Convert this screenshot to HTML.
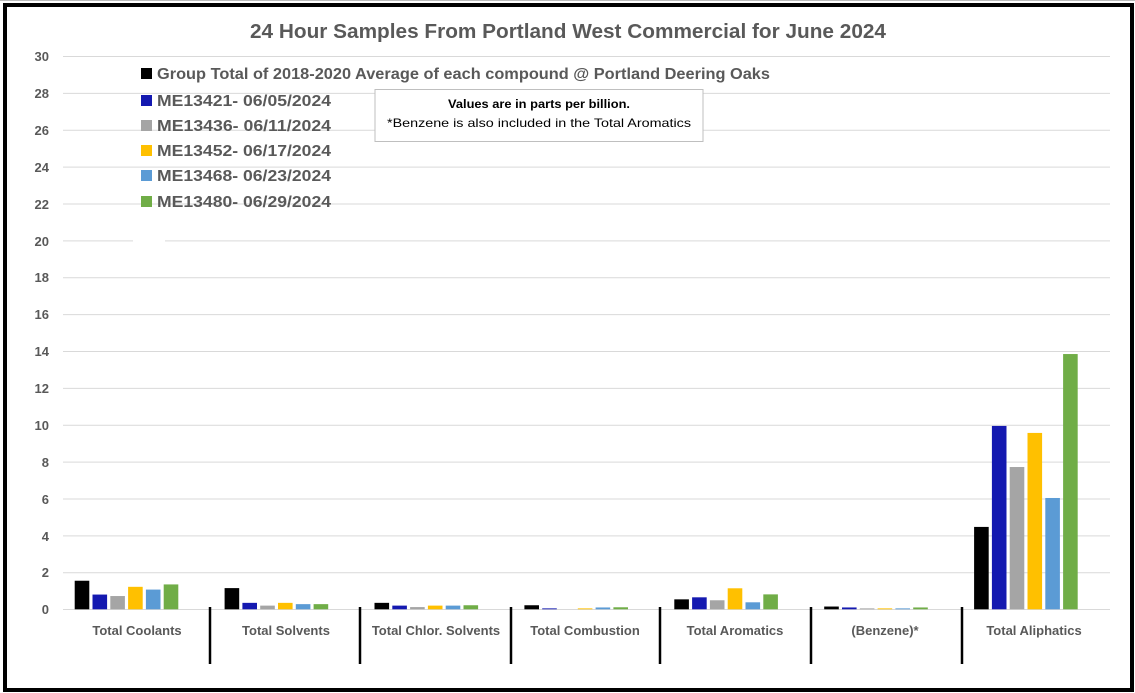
<!DOCTYPE html>
<html><head><meta charset="utf-8"><style>
html,body{margin:0;padding:0;background:#fff;}
svg{display:block;font-family:"Liberation Sans",sans-serif;}
</style></head><body>
<svg width="1135" height="693" viewBox="0 0 1135 693" xmlns="http://www.w3.org/2000/svg">
<rect x="0" y="0" width="1135" height="693" fill="#fff"/>
<line x1="0" y1="0.5" x2="1135" y2="0.5" stroke="#bbb"/>
<rect x="5" y="5" width="1127" height="685" fill="none" stroke="#000" stroke-width="4"/>
<text x="568" y="38" text-anchor="middle" font-size="20" font-weight="bold" fill="#595959" textLength="636" lengthAdjust="spacingAndGlyphs">24 Hour Samples From Portland West Commercial for June 2024</text>
<g stroke="#d9d9d9" stroke-width="1">
<line x1="63" y1="56.5" x2="1110" y2="56.5"/>
<line x1="63" y1="93.4" x2="1110" y2="93.4"/>
<line x1="63" y1="130.2" x2="1110" y2="130.2"/>
<line x1="63" y1="167.1" x2="1110" y2="167.1"/>
<line x1="63" y1="204" x2="1110" y2="204"/>
<line x1="63" y1="240.9" x2="133" y2="240.9"/>
<line x1="165" y1="240.9" x2="1110" y2="240.9"/>
<line x1="63" y1="277.7" x2="1110" y2="277.7"/>
<line x1="63" y1="314.6" x2="1110" y2="314.6"/>
<line x1="63" y1="351.5" x2="1110" y2="351.5"/>
<line x1="63" y1="388.4" x2="1110" y2="388.4"/>
<line x1="63" y1="425.2" x2="1110" y2="425.2"/>
<line x1="63" y1="462.1" x2="1110" y2="462.1"/>
<line x1="63" y1="499" x2="1110" y2="499"/>
<line x1="63" y1="535.9" x2="1110" y2="535.9"/>
<line x1="63" y1="572.7" x2="1110" y2="572.7"/>
<line x1="63" y1="609.5" x2="1110" y2="609.5"/>
</g>
<g font-size="13" font-weight="bold" fill="#595959" text-anchor="end">
<text x="49" y="61">30</text><text x="49" y="98">28</text><text x="49" y="135">26</text>
<text x="49" y="172">24</text><text x="49" y="209">22</text><text x="49" y="246">20</text>
<text x="49" y="282">18</text><text x="49" y="319">16</text><text x="49" y="356">14</text>
<text x="49" y="393">12</text><text x="49" y="430">10</text><text x="49" y="467">8</text>
<text x="49" y="504">6</text><text x="49" y="541">4</text><text x="49" y="577">2</text>
<text x="49" y="614">0</text>
</g>
<g id="bars"></g>
<g stroke="#000" stroke-width="2.5">
<line x1="210" y1="607" x2="210" y2="664"/>
<line x1="360" y1="607" x2="360" y2="664"/>
<line x1="511" y1="607" x2="511" y2="664"/>
<line x1="660" y1="607" x2="660" y2="664"/>
<line x1="811" y1="607" x2="811" y2="664"/>
<line x1="962" y1="607" x2="962" y2="664"/>
</g>
<g font-size="13" font-weight="bold" fill="#595959" text-anchor="middle">
<text x="137" y="635">Total Coolants</text>
<text x="286" y="635">Total Solvents</text>
<text x="436" y="635">Total Chlor. Solvents</text>
<text x="585" y="635">Total Combustion</text>
<text x="735" y="635">Total Aromatics</text>
<text x="885" y="635">(Benzene)*</text>
<text x="1034" y="635">Total Aliphatics</text>
</g>
<g font-size="16" font-weight="bold" fill="#595959">
<rect x="141" y="68" width="11" height="11" fill="#000"/>
<text x="157" y="79" textLength="613" lengthAdjust="spacingAndGlyphs">Group Total of 2018-2020 Average of each compound @ Portland Deering Oaks</text>
<rect x="141" y="95" width="11" height="11" fill="#1419B0"/>
<text x="157" y="106" textLength="174" lengthAdjust="spacingAndGlyphs">ME13421- 06/05/2024</text>
<rect x="141" y="120" width="11" height="11" fill="#A5A5A5"/>
<text x="157" y="131" textLength="174" lengthAdjust="spacingAndGlyphs">ME13436- 06/11/2024</text>
<rect x="141" y="145" width="11" height="11" fill="#FFC000"/>
<text x="157" y="156" textLength="174" lengthAdjust="spacingAndGlyphs">ME13452- 06/17/2024</text>
<rect x="141" y="170" width="11" height="11" fill="#5B9BD5"/>
<text x="157" y="181" textLength="174" lengthAdjust="spacingAndGlyphs">ME13468- 06/23/2024</text>
<rect x="141" y="196" width="11" height="11" fill="#70AD47"/>
<text x="157" y="207" textLength="174" lengthAdjust="spacingAndGlyphs">ME13480- 06/29/2024</text>
</g>
<rect x="375" y="89.5" width="328" height="52" fill="#fff" stroke="#bfbfbf"/>
<text x="539" y="108" text-anchor="middle" font-size="12" font-weight="bold" fill="#000" textLength="182" lengthAdjust="spacingAndGlyphs">Values are in parts per billion.</text>
<text x="539" y="127" text-anchor="middle" font-size="12" fill="#000" textLength="304" lengthAdjust="spacingAndGlyphs">*Benzene is also included in the Total Aromatics</text>
<script>
var data=[[1.55,0.8,0.72,1.22,1.07,1.35],[1.15,0.35,0.2,0.35,0.28,0.28],[0.35,0.2,0.12,0.2,0.2,0.22],[0.22,0.05,0,0.05,0.1,0.11],[0.54,0.65,0.49,1.14,0.38,0.81],[0.15,0.1,0.05,0.05,0.05,0.1],[4.47,9.95,7.72,9.57,6.04,13.85]];
var cols=["#000","#1419B0","#A5A5A5","#FFC000","#5B9BD5","#70AD47"];
var g=document.getElementById("bars"),ns="http://www.w3.org/2000/svg";
for(var c=0;c<7;c++)for(var s=0;s<6;s++){var v=data[c][s];if(v<=0)continue;var h=v*18.43;var r=document.createElementNS(ns,"rect");
r.setAttribute("x",74.7+149.9*c+17.8*s);r.setAttribute("width",14.6);r.setAttribute("y",609.3-h);r.setAttribute("height",h);r.setAttribute("fill",cols[s]);g.appendChild(r);}
</script>
</svg>
</body></html>
